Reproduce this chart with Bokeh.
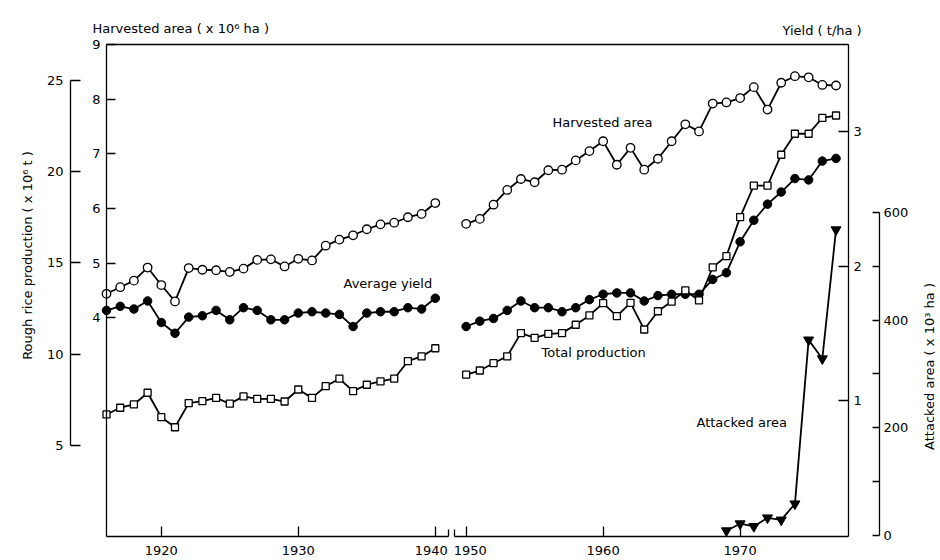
import math
from bokeh.plotting import figure
from bokeh.models import LinearAxis, Range1d, FixedTicker, Label
from bokeh.embed import file_html
from bokeh.resources import INLINE

# ---------------- data ----------------
years_early = list(range(1916, 1941))          # 1916-1940
years_late = list(range(1950, 1978))           # 1950-1977
years_attack = list(range(1969, 1978))         # 1969-1977

# Harvested area (x10^6 ha)
area_early = [4.44, 4.56, 4.68, 4.92, 4.60, 4.30, 4.91, 4.88, 4.87, 4.84,
              4.90, 5.06, 5.07, 4.94, 5.08, 5.05, 5.32, 5.43, 5.51, 5.62,
              5.71, 5.74, 5.84, 5.90, 6.10]
area_late = [5.72, 5.81, 6.07, 6.34, 6.54, 6.48, 6.70, 6.71, 6.88, 7.05,
             7.23, 6.80, 7.11, 6.71, 6.91, 7.23, 7.54, 7.41, 7.92, 7.94,
             8.02, 8.22, 7.81, 8.30, 8.42, 8.40, 8.26, 8.25]

# Average yield (t/ha)
yield_early = [1.67, 1.70, 1.68, 1.74, 1.58, 1.50, 1.62, 1.63, 1.67, 1.60,
               1.69, 1.67, 1.60, 1.60, 1.65, 1.66, 1.65, 1.64, 1.55, 1.65,
               1.66, 1.66, 1.69, 1.68, 1.76]
yield_late = [1.55, 1.59, 1.61, 1.67, 1.74, 1.69, 1.69, 1.66, 1.69, 1.75,
              1.79, 1.80, 1.80, 1.74, 1.78, 1.79, 1.79, 1.79, 1.90, 1.95,
              2.18, 2.34, 2.46, 2.55, 2.65, 2.64, 2.78, 2.80]

# Total (rough rice) production (x10^6 t)
prod_early = [6.69, 7.06, 7.24, 7.88, 6.54, 5.99, 7.31, 7.42, 7.60, 7.28,
              7.68, 7.55, 7.55, 7.40, 8.06, 7.60, 8.24, 8.65, 7.97, 8.32,
              8.50, 8.65, 9.61, 9.87, 10.32]
prod_late = [8.87, 9.10, 9.50, 9.88, 11.15, 10.89, 11.11, 11.15, 11.61, 12.12,
             12.79, 12.08, 12.81, 11.35, 12.35, 12.88, 13.49, 12.94, 14.76, 15.37,
             17.51, 19.24, 19.24, 20.93, 22.08, 22.08, 22.95, 23.08]

# Attacked area (x10^3 ha)
attacked = [8, 21, 16, 32, 28, 58, 363, 328, 568]

# axis ticks
area_ticks = [4, 5, 6, 7, 8, 9]
prod_ticks = [5, 10, 15, 20, 25]
yield_ticks = [1, 2, 3]
attack_ticks = [0, 200, 400, 600]
attack_minor = [100, 300, 500]
year_ticks_early = [1920, 1930, 1940]
year_ticks_late = [1950, 1960, 1970]

FONT = "DejaVu Sans"
FS = "13px"
GAP = 7.75  # years squeezed out of the broken time axis (1940 -> 1950)

W, H = 940, 560
# plot box in pixels (left, right, top, bottom)
BL, BR, BT, BB = 106, 848, 44, 536
X0 = 1916.0
SX = 13.7                          # px per year
X1 = X0 + (BR - BL) / SX


def pos(y):
    return y if y <= 1940 else y - GAP


def px(xpix):
    # horizontal pixel -> x data coordinate
    return X0 + (xpix - BL) / SX


def rng(v_at_top, v_at_bottom):
    # extend a range so that it spans the whole canvas (box edges at BT/BB)
    s = (v_at_top - v_at_bottom) / (BB - BT)
    return Range1d(v_at_bottom - (H - BB) * s, v_at_top + BT * s)


x_early = [pos(y) for y in years_early]
x_late = [pos(y) for y in years_late]
x_attack = [pos(y) for y in years_attack]

# value of each scale at the top and bottom of the plot box
AREA_TB = (9.0, 0.0)
PROD_TB = (25 + (80 - 44) / 18.24, 0.0)
YIELD_TB = (3 + (131 - 44) / 134.5, 1 - (536 - 400) / 134.5)
ATT_TB = (600 + (212 - 44) / 0.5375, -(536 - 534.5) / 0.5375)

p = figure(width=W, height=H,
           x_range=Range1d(px(0), px(W)),
           y_range=rng(*AREA_TB),
           output_backend="svg", toolbar_location=None,
           x_axis_location=None, y_axis_location=None,
           min_border_left=0, min_border_right=0, min_border_top=0, min_border_bottom=0)
p.outline_line_color = None
p.grid.visible = False
p.background_fill_color = "white"
p.border_fill_color = "white"
p.extra_y_ranges = {
    "yield": rng(*YIELD_TB),
    "prod": rng(*PROD_TB),
    "att": rng(*ATT_TB),
}


def style(ax, tick_in, standoff, minor_in=0):
    ax.axis_line_color = "black"
    ax.axis_line_width = 1.3
    ax.major_tick_line_color = "black"
    ax.major_tick_line_width = 1.3
    ax.minor_tick_line_color = "black"
    ax.minor_tick_line_width = 1.3
    ax.major_tick_in = tick_in
    ax.major_tick_out = 0
    ax.minor_tick_in = minor_in
    ax.minor_tick_out = 0
    ax.major_label_standoff = standoff
    ax.major_label_text_font = FONT
    ax.major_label_text_font_size = FS
    ax.major_label_text_color = "black"


# left: harvested area (box edge)
ax_area = LinearAxis(ticker=FixedTicker(ticks=area_ticks), bounds=AREA_TB[::-1],
                     fixed_location=X0)
style(ax_area, 9, 6)
p.add_layout(ax_area, "left")

# left, offset: production
ax_prod = LinearAxis(y_range_name="prod", ticker=FixedTicker(ticks=prod_ticks),
                     bounds=(5, 25), fixed_location=px(70))
style(ax_prod, 10, 7)
p.add_layout(ax_prod, "left")

# right: yield (box edge)
ax_yield = LinearAxis(y_range_name="yield", ticker=FixedTicker(ticks=yield_ticks),
                      bounds=YIELD_TB[::-1], fixed_location=X1)
style(ax_yield, 10, 5)
p.add_layout(ax_yield, "right")

# right, offset: attacked area
ax_att = LinearAxis(y_range_name="att",
                    ticker=FixedTicker(ticks=attack_ticks, minor_ticks=attack_minor),
                    bounds=(0, 600), fixed_location=px(879))
style(ax_att, 7, 4, minor_in=7)
p.add_layout(ax_att, "right")

# bottom: broken time axis
brk1 = px(448)
brk2 = px(454)
NB = "\u00a0\u00a0"
ax_x1 = LinearAxis(ticker=FixedTicker(ticks=year_ticks_early, minor_ticks=[brk1]),
                   bounds=(X0, brk1), fixed_location=0,
                   major_label_overrides={1940: "1940" + NB})
style(ax_x1, 10, 6, minor_in=7)
p.add_layout(ax_x1, "below")
late_pos = [pos(y) for y in year_ticks_late]
late_lab = {late_pos[0]: NB + str(year_ticks_late[0])}
late_lab.update({xp: str(y) for xp, y in zip(late_pos[1:], year_ticks_late[1:])})
ax_x2 = LinearAxis(ticker=FixedTicker(ticks=late_pos, minor_ticks=[brk2]),
                   bounds=(brk2, X1), fixed_location=0,
                   major_label_overrides=late_lab)
style(ax_x2, 10, 6, minor_in=7)
p.add_layout(ax_x2, "below")

# top box line
ax_top = LinearAxis(ticker=FixedTicker(ticks=[]), bounds=(X0, X1), fixed_location=9)
style(ax_top, 0, 0)
ax_top.major_label_text_font_size = "0px"
p.add_layout(ax_top, "above")

LW = 1.8
# harvested area
for xs, vs in ((x_early, area_early), (x_late, area_late)):
    p.line(xs, vs, line_color="black", line_width=LW)
    p.scatter(xs, vs, marker="circle", size=8.5, fill_color="white", line_color="black", line_width=1.3)
# yield
for xs, vs in ((x_early, yield_early), (x_late, yield_late)):
    p.line(xs, vs, line_color="black", line_width=LW, y_range_name="yield")
    p.scatter(xs, vs, marker="circle", size=8.5, fill_color="black", line_color="black",
              y_range_name="yield")
# production
for xs, vs in ((x_early, prod_early), (x_late, prod_late)):
    p.line(xs, vs, line_color="black", line_width=LW, y_range_name="prod")
    p.scatter(xs, vs, marker="square", size=7, fill_color="white", line_color="black",
              line_width=1.3, y_range_name="prod")
# attacked area
p.line(x_attack, attacked, line_color="black", line_width=LW, y_range_name="att")
p.scatter(x_attack, attacked, marker="inverted_triangle", size=10, fill_color="black",
          line_color="black", y_range_name="att")


def lab(xpix, y, text, angle=0.0, align="left"):
    p.add_layout(Label(x=px(xpix), y=y, text=text, angle=angle, text_align=align,
                       text_baseline="middle", text_font=FONT, text_font_size=FS,
                       text_color="black"))


lab(92, 9.29, "Harvested area ( x 10\u2076 ha )")
lab(782, 9.26, "Yield ( t/ha )")
lab(27, 5.14, "Rough rice production ( x 10\u2076 t )", angle=math.pi / 2, align="center")
lab(929, 3.11, "Attacked area ( x 10\u00b3 ha )", angle=math.pi / 2, align="center")

lab(552, 7.58, "Harvested area")
lab(343, 4.63, "Average yield")
lab(541, 3.37, "Total production")
lab(696, 2.09, "Attacked area")

open("out.html", "w").write(file_html(p, INLINE))
